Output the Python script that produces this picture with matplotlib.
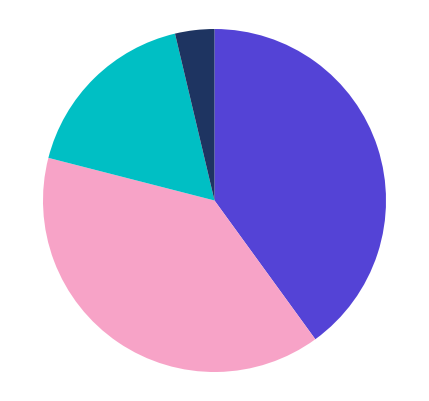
import matplotlib
matplotlib.use("Agg")
import matplotlib.pyplot as plt

labels = ["A", "B", "C", "D"]
values = [40.0, 39.0, 17.3, 3.7]
colors = ["#5443D6", "#F7A3C7", "#00BFC4", "#1E3461"]

W, H = 429, 402
fig = plt.figure(figsize=(W / 100, H / 100), dpi=100)
cx, cy, r = 214.5, 201.5, 171.5
ax = fig.add_axes([(cx - r) / W, (H - cy - r) / H, 2 * r / W, 2 * r / H])

ax.pie(values, colors=colors, startangle=90, counterclock=False,
       wedgeprops=dict(linewidth=0))
ax.set_xlim(-1, 1)
ax.set_ylim(-1, 1)
ax.set_aspect("equal")
ax.axis("off")

fig.savefig("out.png", dpi=100, facecolor="white")
